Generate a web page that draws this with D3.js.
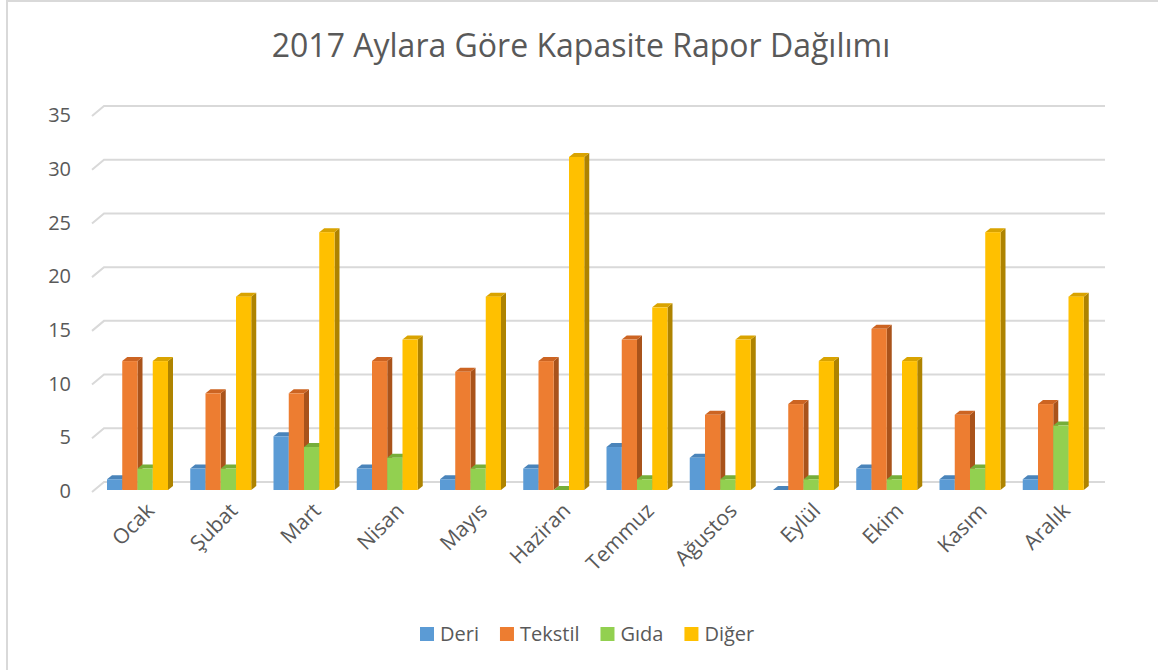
<!DOCTYPE html>
<html>
<head>
<meta charset="utf-8">
<script src="https://cdn.jsdelivr.net/npm/d3@7"></script>
<style>
  body { margin: 0; background: #fff; }
  svg { font-family: 'Open Sans', sans-serif; }
</style>
</head>
<body>
<div id="chart"></div>
<script>
// Veriler
const months = ['Ocak', 'Şubat', 'Mart', 'Nisan', 'Mayıs', 'Haziran', 'Temmuz', 'Ağustos', 'Eylül', 'Ekim', 'Kasım', 'Aralık'];
const seriesNames = ['Deri', 'Tekstil', 'Gıda', 'Diğer'];
const deri    = [1, 2, 5, 2, 1, 2, 4, 3, 0, 2, 1, 1];
const tekstil = [12, 9, 9, 12, 11, 12, 14, 7, 8, 15, 7, 8];
const gida    = [2, 2, 4, 3, 2, 0, 1, 1, 1, 1, 2, 6];
const diger   = [12, 18, 24, 14, 18, 31, 17, 14, 12, 12, 24, 18];
const yTicks  = [0, 5, 10, 15, 20, 25, 30, 35];

const colors = {
    Deri:    { front: '#5B9BD5', top: '#4A84BA', side: '#3F73A3' },
    Tekstil: { front: '#ED7D31', top: '#CC6422', side: '#A9531B' },
    'Gıda':  { front: '#92D050', top: '#76AE3A', side: '#65962F' },
    'Diğer': { front: '#FFC000', top: '#D9A300', side: '#AE8300' }
};

const W = 1158, H = 670;
const svg = d3.select('#chart').append('svg')
    .attr('width', W)
    .attr('height', H);

// Cerceve
svg.append('path')
    .attr('d', `M7,${H} L7,1 L${W},1`)
    .attr('fill', 'none')
    .attr('stroke', '#d9d9d9')
    .attr('stroke-width', 2);

// Baslik
svg.append('text')
    .attr('x', 581)
    .attr('y', 57)
    .attr('text-anchor', 'middle')
    .style('font-size', '32px')
    .style('fill', '#595959')
    .text('2017 Aylara Göre Kapasite Rapor Dağılımı');

// Scale
const x = d3.scaleBand()
    .domain(months)
    .range([96, 1095]);

const xInner = d3.scaleBand()
    .domain(seriesNames)
    .range([11, 72]);

const y = d3.scaleLinear()
    .domain([0, 35])
    .range([491, 115]);

const depth = { dx: 12, dy: -10 };   // arka duvar kaydirmasi
const bar3d = { dx: 5, dy: -4 };     // cubuk derinligi

// Izgara cizgileri
const grid = svg.append('g');
yTicks.forEach(t => {
    const yy = y(t) + 1;
    grid.append('path')
        .attr('d', `M92,${yy} L${92 + depth.dx},${yy + depth.dy} L1105,${yy + depth.dy}`)
        .attr('fill', 'none')
        .attr('stroke', '#d9d9d9')
        .attr('stroke-width', 2);
});

// Y ekseni etiketleri
svg.append('g')
    .selectAll('text')
    .data(yTicks)
    .enter().append('text')
    .attr('x', 71)
    .attr('y', d => y(d))
    .attr('dy', '0.36em')
    .attr('text-anchor', 'end')
    .style('font-size', '20px')
    .style('fill', '#595959')
    .text(d => d);

// Cubuklar
const seriesData = [deri, tekstil, gida, diger];
const bars = svg.append('g');
const barW = xInner.bandwidth();
const baseY = y(0) - 1;

months.forEach((m, i) => {
    seriesNames.forEach((s, j) => {
        const v = seriesData[j][i];
        const x0 = x(m) + xInner(s);
        const yTop = y(v) - 1;
        const c = colors[s];
        // yan yuz
        bars.append('path')
            .attr('d', `M${x0 + barW},${yTop} L${x0 + barW + bar3d.dx},${yTop + bar3d.dy} L${x0 + barW + bar3d.dx},${baseY + bar3d.dy} L${x0 + barW},${baseY} Z`)
            .attr('fill', c.side);
        // ust yuz
        bars.append('path')
            .attr('d', `M${x0},${yTop} L${x0 + bar3d.dx},${yTop + bar3d.dy} L${x0 + barW + bar3d.dx},${yTop + bar3d.dy} L${x0 + barW},${yTop} Z`)
            .attr('fill', c.top);
        // on yuz
        bars.append('rect')
            .attr('x', x0)
            .attr('y', yTop)
            .attr('width', barW)
            .attr('height', baseY - yTop)
            .attr('fill', c.front);
    });
});

// X ekseni etiketleri
svg.append('g')
    .selectAll('text')
    .data(months)
    .enter().append('text')
    .attr('transform', d => `translate(${x(d) + x.bandwidth() / 2 + 18},${512}) rotate(-45)`)
    .attr('text-anchor', 'end')
    .style('font-size', '21px')
    .style('fill', '#595959')
    .text(d => d);

// Lejant
const legend = svg.append('g');
let lx = 420;
seriesNames.forEach(s => {
    const item = legend.append('g').attr('transform', `translate(${lx},627)`);
    item.append('rect')
        .attr('width', 14)
        .attr('height', 14)
        .attr('fill', colors[s].front);
    const t = item.append('text')
        .attr('x', 20)
        .attr('y', 7)
        .attr('dy', '0.36em')
        .style('font-size', '20px')
        .style('fill', '#595959')
        .text(s);
    lx += 20 + t.node().getComputedTextLength() + 21;
});
</script>
</body>
</html>
